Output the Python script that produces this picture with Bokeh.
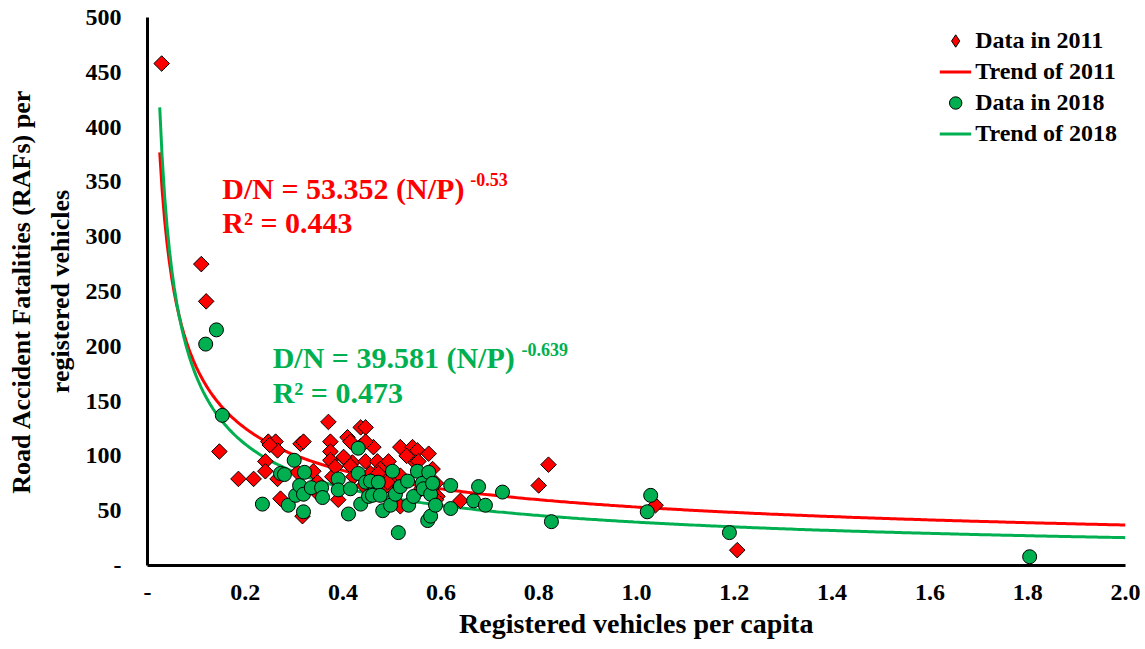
import numpy as np
from bokeh.plotting import figure
from bokeh.models import (Range1d, FixedTicker, NumeralTickFormatter, LinearAxis,
                          Legend, LegendItem, Label)
from bokeh.embed import file_html
from bokeh.resources import INLINE

# ---------------- data ----------------
x_2011 = [0.029, 0.110, 0.120, 0.147, 0.186, 0.217, 0.241, 0.241, 0.247, 0.262,
          0.266, 0.266, 0.272, 0.307, 0.313, 0.319, 0.317, 0.339, 0.348, 0.370,
          0.374, 0.374, 0.374, 0.378, 0.384, 0.405, 0.409, 0.415, 0.419, 0.436,
          0.446, 0.436, 0.446, 0.442, 0.462, 0.446, 0.470, 0.493, 0.476, 0.497,
          0.456, 0.487, 0.507, 0.517, 0.542, 0.552, 0.575, 0.548, 0.583, 0.517,
          0.593, 0.640, 0.800, 0.820, 1.039, 1.206, 0.401, 0.415, 0.554, 0.421,
          0.472, 0.491, 0.517, 0.530, 0.560, 0.590, 0.460, 0.350, 0.590, 0.390,
          0.250]
y_2011 = [458, 275, 241, 104, 79, 79, 95, 86, 113, 113,
          105, 79, 61, 85, 111, 113, 45, 86, 76, 131,
          113, 104, 96, 81, 90, 97, 117, 113, 94, 126,
          126, 109, 95, 73, 108, 113, 95, 95, 88, 82,
          84, 72, 77, 108, 108, 105, 102, 94, 88, 54,
          63, 59, 73, 92, 55, 14, 99, 91, 95, 81,
          84, 76, 82, 100, 70, 75, 65, 65, 60, 60,
          110]

x_2018 = [0.119, 0.141, 0.153, 0.235, 0.272, 0.280, 0.288, 0.300, 0.303, 0.311,
          0.319, 0.319, 0.321, 0.335, 0.356, 0.358, 0.390, 0.390, 0.411, 0.415,
          0.431, 0.431, 0.436, 0.446, 0.452, 0.456, 0.460, 0.472, 0.476, 0.481,
          0.497, 0.501, 0.507, 0.513, 0.517, 0.532, 0.534, 0.544, 0.552, 0.562,
          0.564, 0.573, 0.575, 0.579, 0.579, 0.583, 0.589, 0.620, 0.620, 0.667,
          0.677, 0.691, 0.726, 0.826, 1.022, 1.029, 1.190, 1.804]
y_2018 = [202, 215, 137, 56, 84, 83, 55, 96, 64, 73,
          65, 49, 85, 71, 71, 62, 79, 69, 47, 70,
          107, 84, 56, 76, 63, 77, 64, 76, 64, 50,
          55, 86, 65, 30, 72, 77, 55, 63, 86, 75,
          70, 41, 85, 65, 45, 75, 55, 73, 52, 59,
          72, 55, 67, 40, 49, 64, 30, 8]

# power trend coefficients shown on the chart
coef_2011, exp_2011 = 53.352, -0.53
coef_2018, exp_2018 = 39.581, -0.639
r2_2011, r2_2018 = 0.443, 0.473

x_ticks = [0, 0.2, 0.4, 0.6, 0.8, 1.0, 1.2, 1.4, 1.6, 1.8, 2.0]
y_ticks = [0, 50, 100, 150, 200, 250, 300, 350, 400, 450, 500]

RED = "#FF0000"
GREEN = "#00B050"
FONT = "Liberation Serif"

p = figure(width=1145, height=649, x_range=Range1d(0, 2.0), y_range=Range1d(0, 500),
           output_backend="svg", toolbar_location=None,
           min_border_left=147, min_border_right=20, min_border_top=17, min_border_bottom=84)
p.outline_line_color = None
p.xgrid.visible = False
p.ygrid.visible = False

# axes
for ax in (p.xaxis[0], p.yaxis[0]):
    ax.axis_line_width = 3
    ax.axis_line_color = "black"
    ax.major_tick_line_color = None
    ax.minor_tick_line_color = None
    ax.major_tick_out = 0
    ax.major_tick_in = 0
    ax.minor_tick_out = 0
    ax.minor_tick_in = 0
    ax.major_label_text_font = FONT
    ax.major_label_text_font_style = "bold"
    ax.major_label_text_font_size = "24px"
    ax.major_label_text_color = "black"
    ax.axis_label_text_font = FONT
    ax.axis_label_text_font_style = "bold"
    ax.axis_label_text_color = "black"

p.xaxis[0].ticker = FixedTicker(ticks=x_ticks)
p.xaxis[0].formatter = NumeralTickFormatter(format="0.0")
p.xaxis[0].major_label_overrides = {0: "-"}
p.xaxis[0].major_label_standoff = 19
p.xaxis[0].axis_label = "Registered vehicles per capita"
p.xaxis[0].axis_label_text_font_size = "28px"
p.xaxis[0].axis_label_standoff = 5

p.yaxis[0].ticker = FixedTicker(ticks=y_ticks)
p.yaxis[0].major_label_overrides = {0: "-"}
p.yaxis[0].major_label_standoff = 26
p.yaxis[0].axis_label = "registered vehicles"
p.yaxis[0].axis_label_text_font_size = "26px"
p.yaxis[0].axis_label_standoff = 8

outer = LinearAxis(axis_label="Road Accident Fatalities (RAFs) per",
                   ticker=FixedTicker(ticks=[]), axis_line_color=None,
                   major_tick_line_color=None, minor_tick_line_color=None,
                   major_tick_out=0, major_tick_in=0, minor_tick_out=0, minor_tick_in=0,
                   axis_label_text_font=FONT, axis_label_text_font_style="bold",
                   axis_label_text_font_size="26px", axis_label_text_color="black",
                   axis_label_standoff=7)
p.add_layout(outer, "left")

# trend lines
xs = np.linspace(0.025, 2.0, 400)
tr11 = p.line(xs, coef_2011 * xs ** exp_2011, line_color=RED, line_width=3)
tr18 = p.line(xs, coef_2018 * xs ** exp_2018, line_color=GREEN, line_width=3)

# legend-only glyph for the diamond key (hidden under the real markers: size 0)
leg11 = p.scatter(x_2011, y_2011, marker="diamond", size=0,
                  fill_color=RED, line_color="black", line_width=1)

# scatter
d11 = p.scatter(x_2011, y_2011, marker="square", size=11, angle=np.pi / 4,
                fill_color=RED, line_color="black", line_width=1)
d18 = p.scatter(x_2018, y_2018, marker="circle", size=14,
                fill_color=GREEN, line_color="black", line_width=1)

legend = Legend(items=[LegendItem(label="Data in 2011", renderers=[leg11]),
                       LegendItem(label="Trend of 2011", renderers=[tr11]),
                       LegendItem(label="Data in 2018", renderers=[d18]),
                       LegendItem(label="Trend of 2018", renderers=[tr18])],
                location="top_right", border_line_color=None, background_fill_alpha=0,
                label_text_font=FONT, label_text_font_style="bold",
                label_text_font_size="24px", label_text_color="black",
                glyph_width=32, glyph_height=31, label_height=24, spacing=0,
                padding=8, margin=8, label_standoff=4)
p.add_layout(legend)

# equations
def add_text(x, y, txt, color, size):
    p.add_layout(Label(x=x, y=y, text=txt, text_color=color, text_font=FONT,
                       text_font_style="bold", text_font_size=size,
                       text_baseline="middle", text_align="left"))

add_text(0.153, 344, "D/N = %.3f (N/P)" % coef_2011, RED, "30px")
add_text(0.660, 352, "%.2f" % exp_2011, RED, "18px")
add_text(0.153, 313, "R² = %.3f" % r2_2011, RED, "30px")
add_text(0.256, 190, "D/N = %.3f (N/P)" % coef_2018, GREEN, "30px")
add_text(0.765, 197, "%.3f" % exp_2018, GREEN, "18px")
add_text(0.256, 158, "R² = %.3f" % r2_2018, GREEN, "30px")

open("out.html", "w").write(file_html(p, INLINE))
